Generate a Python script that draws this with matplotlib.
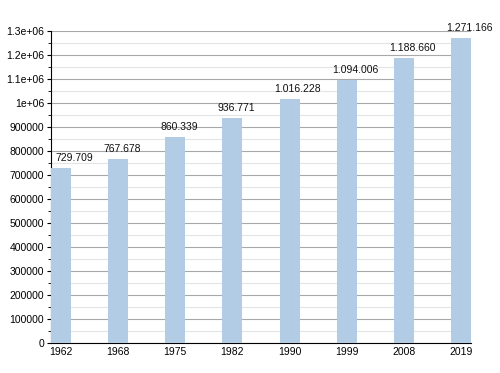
import matplotlib.pyplot as plt
from matplotlib.ticker import MultipleLocator, FuncFormatter

plt.rcParams['font.family'] = ['Liberation Sans', 'DejaVu Sans']

years = ["1962", "1968", "1975", "1982", "1990", "1999", "2008", "2019"]
population = [729709, 767678, 860339, 936771, 1016228, 1094006, 1188660, 1271166]
labels = ["729.709", "767.678", "860.339", "936.771", "1.016.228", "1.094.006", "1.188.660", "1.271.166"]

bar_w = 0.35

fig = plt.figure(figsize=(5, 3.73), dpi=100)
ax = fig.add_axes([0.102, 0.0804, 0.84, 0.8365])

x = range(len(years))
ax.bar(x, population, width=bar_w, color="#b3cce6", zorder=3)

# value labels sit roughly left-aligned on the bar, first one nudged right
for xi, val, lab in zip(x, population, labels):
    dx = 4 if xi == 0 else -5
    ax.annotate(lab, (xi - bar_w / 2, val), xytext=(dx, 5), textcoords="offset pixels",
                ha="left", va="bottom", fontsize=7.5, color="#111111",
                annotation_clip=False, zorder=4)

ax.set_xlim(-bar_w / 2, len(years) - 1 + bar_w / 2)
ax.set_ylim(0, 1.3e6)
ax.set_xticks(list(x))
ax.set_xticklabels(years)

ax.yaxis.set_major_locator(MultipleLocator(100000))
ax.yaxis.set_minor_locator(MultipleLocator(50000))
ax.yaxis.set_major_formatter(FuncFormatter(lambda v, p: "%g" % v))

ax.grid(axis="y", which="major", color="#a8a8a8", linewidth=0.8, zorder=0)
ax.grid(axis="y", which="minor", color="#e4e4e4", linewidth=0.8, zorder=0)

for s in ["top", "right"]:
    ax.spines[s].set_visible(False)

ax.tick_params(axis="x", length=0, labelsize=7.5, pad=3)
ax.tick_params(axis="y", which="major", length=3, labelsize=7.5, pad=2)
ax.tick_params(axis="y", which="minor", length=2)

fig.savefig("out.png", dpi=100)
